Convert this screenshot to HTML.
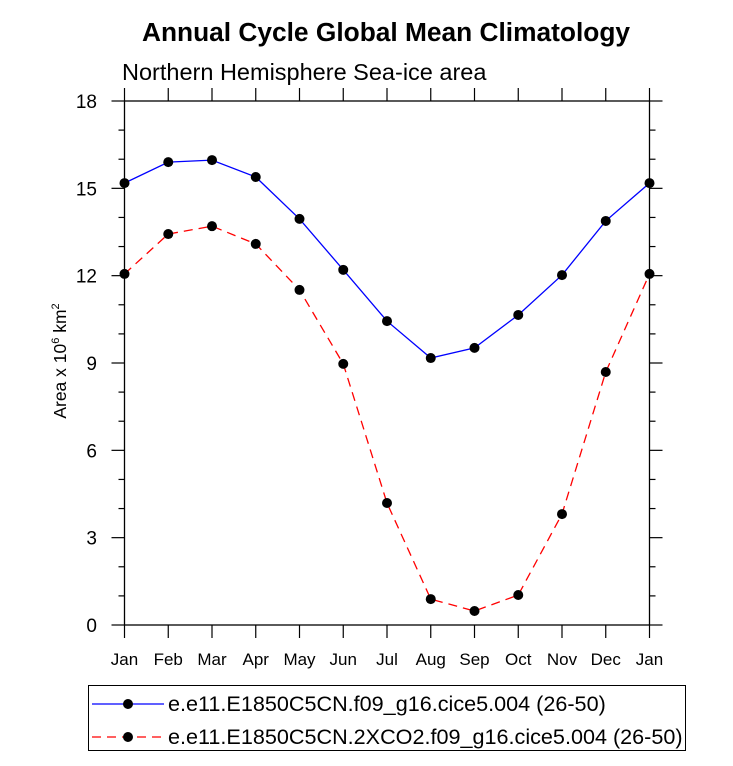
<!DOCTYPE html>
<html><head><meta charset="utf-8"><style>
body{margin:0;background:#fff;}
svg text{font-family:"Liberation Sans",sans-serif;}
</style></head><body>
<svg id="chart" width="733" height="761" xmlns="http://www.w3.org/2000/svg">
<text x="386" y="41" text-anchor="middle" font-size="26.3" font-weight="bold">Annual Cycle Global Mean Climatology</text>
<text x="122" y="80" font-size="23.5">Northern Hemisphere Sea-ice area</text>
<text transform="translate(66,361) rotate(-90)" text-anchor="middle" font-size="17.5">Area x 10<tspan font-size="11" dy="-7">6</tspan><tspan dy="7"> km</tspan><tspan font-size="11" dy="-7">2</tspan></text>
<g id="axes"></g>
<g id="series"></g>
<g>
<rect x="88.5" y="685.5" width="597" height="65" fill="none" stroke="#000" stroke-width="1"/>
<line x1="92" y1="704" x2="164" y2="704" stroke="#0000ff" stroke-width="1.3"/>
<circle cx="128" cy="704" r="5" fill="#000"/>
<text x="168" y="711" font-size="21.6">e.e11.E1850C5CN.f09_g16.cice5.004 (26-50)</text>
<line x1="92" y1="737" x2="164" y2="737" stroke="#ff0000" stroke-width="1.3" stroke-dasharray="9,6"/>
<circle cx="128" cy="737" r="5" fill="#000"/>
<text x="168" y="744" font-size="21.6">e.e11.E1850C5CN.2XCO2.f09_g16.cice5.004 (26-50)</text>
</g>
</svg>
<script>
const months=["Jan","Feb","Mar","Apr","May","Jun","Jul","Aug","Sep","Oct","Nov","Dec","Jan"];
const controlValues=[15.18,15.9,15.97,15.39,13.95,12.2,10.44,9.17,9.52,10.65,12.02,13.88,15.18];
const co2Values=[12.06,13.43,13.7,13.09,11.51,8.97,4.19,0.89,0.48,1.03,3.81,8.69,12.06];
const yTicks=[0,3,6,9,12,15,18];
const NS="http://www.w3.org/2000/svg";
const L=124.5,R=649.5,T=101,B=625,ymax=18;
const xs=i=>L+(R-L)*i/(months.length-1);
const ys=v=>B-(B-T)*v/ymax;
const ax=document.getElementById('axes'),sr=document.getElementById('series');
function mk(tag,at,p){const e=document.createElementNS(NS,tag);for(const k in at)e.setAttribute(k,at[k]);p.appendChild(e);return e;}
const frame=mk('rect',{x:L,y:T,width:R-L,height:B-T,fill:'none',stroke:'#000','stroke-width':1.3},ax);


months.forEach((m,i)=>{const x=xs(i);
mk('line',{x1:x,y1:B,x2:x,y2:B+13,stroke:'#000','stroke-width':1.2},ax);
mk('line',{x1:x,y1:T,x2:x,y2:T-13,stroke:'#000','stroke-width':1.2},ax);
const t=mk('text',{x:x,y:B+40,'text-anchor':'middle','font-size':17},ax);t.textContent=m;

});
for(let v=0;v<=ymax;v++){const y=ys(v),maj=yTicks.includes(v),len=maj?13:6;
mk('line',{x1:L,y1:y,x2:L-len,y2:y,stroke:'#000','stroke-width':1.2},ax);
mk('line',{x1:R,y1:y,x2:R+len,y2:y,stroke:'#000','stroke-width':1.2},ax);}
yTicks.forEach(v=>{const t=mk('text',{x:97,y:ys(v)+7,'text-anchor':'end','font-size':19},ax);t.textContent=v;

});
function series(vals,color,dash,name){
const pts=vals.map((v,i)=>xs(i)+','+ys(v)).join(' ');
const pl=mk('polyline',{points:pts,fill:'none',stroke:color,'stroke-width':1.3},sr);
if(dash)pl.setAttribute('stroke-dasharray',dash);


vals.forEach((v,i)=>{const c=mk('circle',{cx:xs(i),cy:ys(v),r:5,fill:'#000'},sr);

});}
series(controlValues,'#0000ff',null,'control');
series(co2Values,'#ff0000','9,6','co2');
</script>
</body></html>
